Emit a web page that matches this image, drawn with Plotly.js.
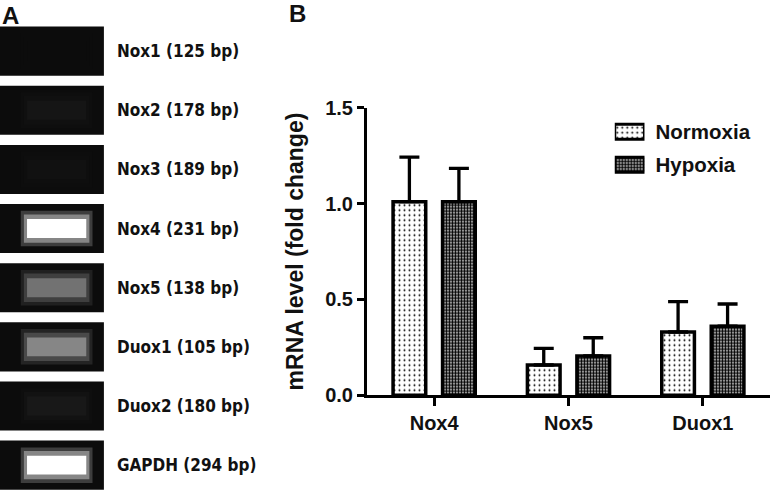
<!DOCTYPE html>
<html>
<head>
<meta charset="utf-8">
<script src="https://cdn.plot.ly/plotly-3.0.1.min.js"></script>
<style>
  html, body { margin: 0; padding: 0; background: #fff; }
  #plot { width: 770px; height: 490px; }
</style>
</head>
<body>
<div id="plot"></div>
<script>
// Panel A: RT-PCR gel lanes
const gelLabels = [
  "Nox1 (125 bp)", "Nox2 (178 bp)", "Nox3 (189 bp)", "Nox4 (231 bp)",
  "Nox5 (138 bp)", "Duox1 (105 bp)", "Duox2 (180 bp)", "GAPDH (294 bp)"
];
// band brightness, 0 = no band, 1 = saturated
const bandIntensity = [0.0, 0.035, 0.02, 1.0, 0.42, 0.5, 0.05, 1.0];

// Panel B: qPCR, fold change
const genes = ["Nox4", "Nox5", "Duox1"];
const normoxia = [1.01, 0.158, 0.33];
const normoxiaErr = [0.232, 0.087, 0.158];
const hypoxia = [1.01, 0.205, 0.36];
const hypoxiaErr = [0.174, 0.095, 0.116];
const groups = ["Normoxia", "Hypoxia"];

const FONT = "Arial, 'Liberation Sans', sans-serif";
const GEL_FONT = "'DejaVu Sans Condensed', 'DejaVu Sans', sans-serif";

function grey(v) {
  const g = Math.round(12 + v * 243);
  return `rgb(${g},${g},${g})`;
}

// fill patterns for the two conditions
const patNormoxia = { shape: ".", size: 5, solidity: 0.12, fgcolor: "black", bgcolor: "white", fillmode: "replace" };
const patHypoxia = { shape: ".", size: 3, solidity: 0.68, fgcolor: "black", bgcolor: "white", fillmode: "replace" };

function laneTrace(len, start, w, level) {
  return {
    type: "bar", orientation: "h",
    y: gelLabels, x: gelLabels.map(() => len), base: start,
    width: w, offset: -w / 2,
    marker: { color: bandIntensity.map((v) => grey(v * level)) },
    xaxis: "x", yaxis: "y", hoverinfo: "skip", showlegend: false
  };
}

// gel background, two glow layers and the band core
const gelTrace = laneTrace(1, 0, 0.83, 0);
const glowOuter = laneTrace(0.69, 0.2, 0.6, 0.2);
const glowInner = laneTrace(0.63, 0.23, 0.48, 0.5);
const bandTrace = laneTrace(0.57, 0.26, 0.32, 1);

const barLine = { color: "black", width: 3.5 };

const traceNormoxia = {
  type: "bar", name: groups[0],
  x: genes, y: normoxia,
  marker: { color: "white", line: barLine, pattern: patNormoxia },
  error_y: { type: "data", array: normoxiaErr, arrayminus: normoxia.map(() => 0), symmetric: false,
             color: "black", thickness: 3.3, width: 10 },
  xaxis: "x2", yaxis: "y2", showlegend: false
};

const traceHypoxia = {
  type: "bar", name: groups[1],
  x: genes, y: hypoxia,
  marker: { color: "white", line: barLine, pattern: patHypoxia },
  error_y: { type: "data", array: hypoxiaErr, arrayminus: hypoxia.map(() => 0), symmetric: false,
             color: "black", thickness: 3.3, width: 10 },
  xaxis: "x2", yaxis: "y2", showlegend: false
};

// legend drawn as a small subplot so the swatches can be large
const legendTraces = groups.map((g, i) => ({
  type: "bar", orientation: "h",
  y: [g], x: [1], base: 0,
  width: 0.45, offset: -0.225,
  marker: { color: "white", line: { color: "black", width: 3 }, pattern: i === 0 ? patNormoxia : patHypoxia },
  xaxis: "x3", yaxis: "y3", hoverinfo: "skip", showlegend: false
}));

const layout = {
  width: 770, height: 490,
  margin: { l: 0, r: 0, t: 0, b: 0 },
  paper_bgcolor: "white", plot_bgcolor: "white",
  font: { family: FONT, color: "#111", weight: "bold" },
  barmode: "group", bargap: 0.263, bargroupgap: 0.34,
  showlegend: false,
  // panel A
  xaxis: { domain: [0, 0.135], range: [0, 1], visible: false, fixedrange: true },
  yaxis: {
    domain: [0, 0.956], anchor: "x", type: "category", range: [7.42, -0.5],
    side: "right", showline: false, showgrid: false, zeroline: false, ticks: "",
    ticklabelstandoff: 12,
    tickfont: { family: GEL_FONT, size: 17, color: "#111", weight: "bold" }
  },
  // panel B
  xaxis2: {
    domain: [0.4766, 1], anchor: "y2", type: "category", range: [-0.5, 2.5],
    showline: true, linecolor: "black", linewidth: 3, showgrid: false, zeroline: false,
    ticks: "outside", ticklen: 8, tickwidth: 3, tickcolor: "black",
    tickfont: { family: FONT, size: 20, color: "#111", weight: "bold" }
  },
  yaxis2: {
    domain: [0.1933, 0.7802], anchor: "x2", range: [0, 1.5], dtick: 0.5, tickformat: ".1f",
    showline: true, linecolor: "black", linewidth: 3, showgrid: false, zeroline: false,
    ticks: "outside", ticklen: 7, tickwidth: 3, tickcolor: "black",
    tickfont: { family: FONT, size: 20, color: "#111", weight: "bold" },
    title: { text: "mRNA level (fold change)", standoff: 16,
             font: { family: FONT, size: 23, color: "#111", weight: "bold" } }
  },
  // legend subplot
  xaxis3: { domain: [0.7984, 0.837], anchor: "y3", range: [0, 1], visible: false, fixedrange: true },
  yaxis3: {
    domain: [0.6302, 0.7649], anchor: "x3", type: "category", range: [1.5, -0.5],
    side: "right", showline: false, showgrid: false, zeroline: false, ticks: "",
    ticklabelstandoff: 10,
    tickfont: { family: FONT, size: 20.5, color: "#111", weight: "bold" }
  },
  annotations: [
    { text: "A", xref: "paper", yref: "paper", x: 0.014, y: 0.968, xanchor: "center", yanchor: "middle",
      showarrow: false, font: { family: FONT, size: 24, color: "#111", weight: "bold" } },
    { text: "B", xref: "paper", yref: "paper", x: 0.387, y: 0.972, xanchor: "center", yanchor: "middle",
      showarrow: false, font: { family: FONT, size: 24, color: "#111", weight: "bold" } }
  ]
};

Plotly.newPlot("plot",
  [gelTrace, glowOuter, glowInner, bandTrace, traceNormoxia, traceHypoxia, ...legendTraces],
  layout, { staticPlot: true, displayModeBar: false });
</script>
</body>
</html>
